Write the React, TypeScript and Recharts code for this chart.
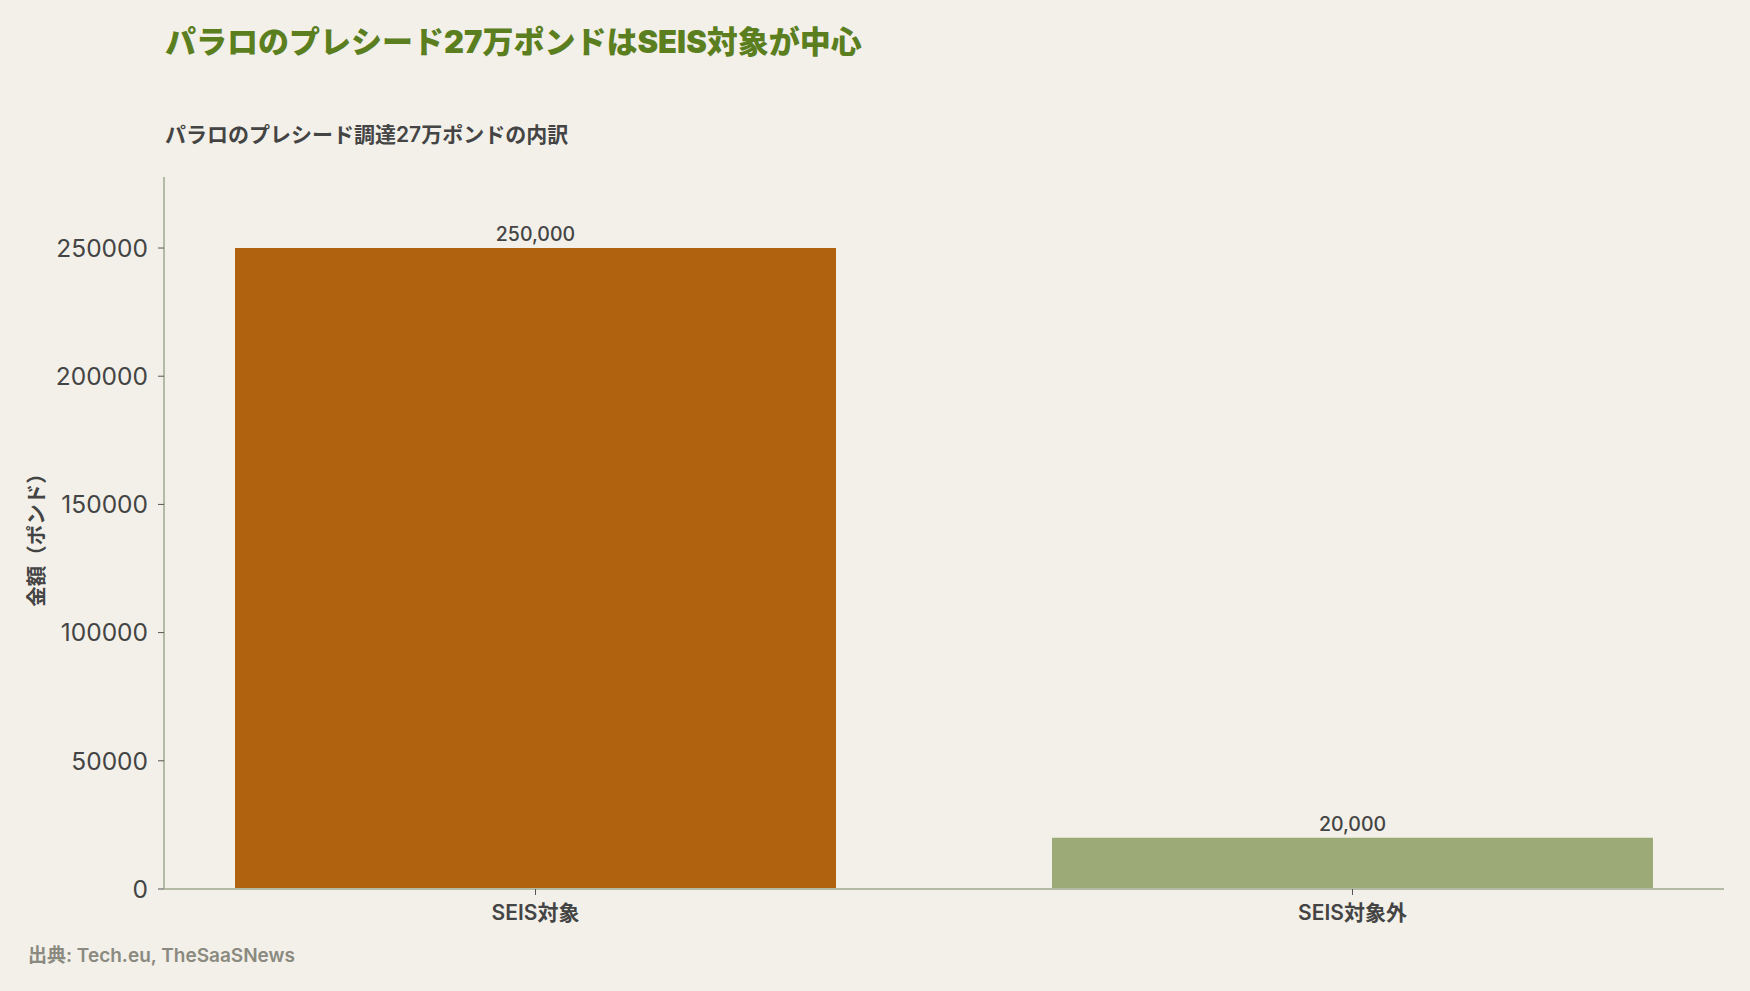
import React from "react";
import { BarChart, Bar, XAxis, YAxis, Cell, LabelList } from "recharts";

// data
const categories = ["SEIS対象", "SEIS対象外"];
const amounts = [250000, 20000];
const yTicks = [0, 50000, 100000, 150000, 200000, 250000];

const barColors = ["#b0620f", "#9caa77"];

const data = categories.map((name, i) => ({ name, value: amounts[i] }));

const FONT = "Inter, 'Noto Sans CJK JP', sans-serif";
const AXIS = "#b3baa6";
const TEXT = "#444444";

export default function App() {
  return (
    <div
      style={{
        position: "absolute",
        left: 0,
        top: 0,
        width: 1750,
        height: 991,
        background: "#f2f0e9",
        fontFamily: FONT,
        overflow: "hidden",
      }}
    >
      <div
        style={{
          position: "absolute",
          left: 165,
          top: 41,
          transform: "translateY(-50%)",
          fontSize: 31,
          lineHeight: 1,
          fontWeight: 900,
          color: "#5b7e1f",
          whiteSpace: "nowrap",
        }}
      >
        パラロのプレシード27万ポンドはSEIS対象が中心
      </div>
      <div
        style={{
          position: "absolute",
          left: 165,
          top: 134,
          transform: "translateY(-50%)",
          fontSize: 21,
          lineHeight: 1,
          fontWeight: 600,
          color: TEXT,
          whiteSpace: "nowrap",
        }}
      >
        パラロのプレシード調達27万ポンドの内訳
      </div>
      <div
        style={{
          position: "absolute",
          left: 37,
          top: 535,
          transform: "translate(-50%, -50%) rotate(-90deg)",
          fontSize: 20.5,
          lineHeight: 1,
          fontWeight: 600,
          color: TEXT,
          whiteSpace: "nowrap",
        }}
      >
        金額（ポンド）
      </div>
      <div
        style={{
          position: "absolute",
          left: 28,
          top: 955,
          transform: "translateY(-50%)",
          fontSize: 19,
          lineHeight: 1,
          fontWeight: 600,
          color: "#8a8a80",
          whiteSpace: "nowrap",
        }}
      >
        出典: Tech.eu, TheSaaSNews
      </div>

      <div style={{ position: "absolute", left: 0, top: 0 }}>
        <BarChart
          width={1750}
          height={991}
          data={data}
          margin={{ top: 177, right: 26, bottom: 42, left: 0 }}
        >
          <XAxis
            dataKey="name"
            padding={{ left: -37, right: -37 }}
            height={60}
            axisLine={{ stroke: AXIS, strokeWidth: 2 }}
            tickLine={{ stroke: "#555" }}
            tickSize={6}
            tickMargin={10}
            tick={{ fill: TEXT, fontSize: 21, fontWeight: 600 }}
          />
          <YAxis
            width={164}
            domain={[0, 277700]}
            ticks={yTicks}
            allowDataOverflow
            axisLine={{ stroke: AXIS, strokeWidth: 2 }}
            tickLine={{ stroke: "#555" }}
            tickSize={6}
            tickMargin={10}
            tick={{ fill: TEXT, fontSize: 24.5 }}
          />
          <Bar dataKey="value" barSize={601} isAnimationActive={false}>
            {data.map((d, i) => (
              <Cell key={d.name} fill={barColors[i]} />
            ))}
            <LabelList
              dataKey="value"
              position="top"
              offset={7}
              fill={TEXT}
              fontSize={19.5}
              fontWeight={500}
              formatter={(v: any) => Number(v).toLocaleString("en-US")}
            />
          </Bar>
        </BarChart>
      </div>
    </div>
  );
}
